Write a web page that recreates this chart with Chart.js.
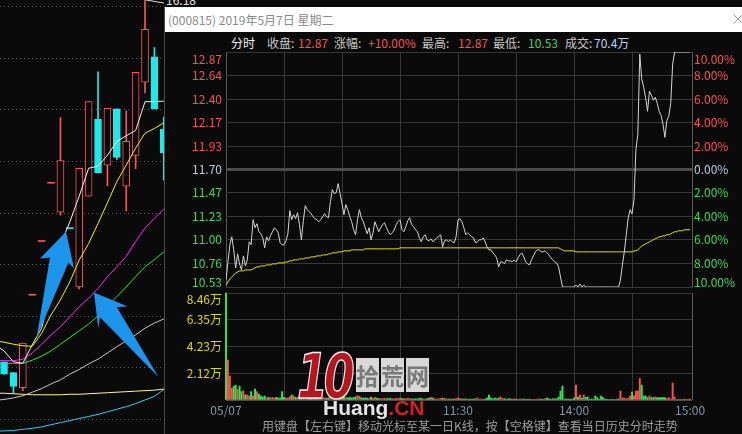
<!DOCTYPE html>
<html lang="zh-CN">
<head>
<meta charset="utf-8">
<title>000815 分时走势</title>
<script src="https://cdn.jsdelivr.net/npm/chart.js@4.4.1/dist/chart.umd.min.js"></script>
<style>
  html, body { margin: 0; padding: 0; background: #0a0a0a; }
  body { position: relative; width: 742px; height: 434px; overflow: hidden;
         font-family: "Noto Sans CJK SC", "Noto Sans", sans-serif; font-size: 12px; }
  canvas, .abs { position: absolute; }
  #kline { left: 0; top: 0; }
  #hiLabel { left: 166px; top: -6px; line-height: 12px; color: #e6e6e6; }
  #panel { left: 164px; top: 7px; width: 577px; height: 427px; background: #0a0a0a; border-left: 1px solid #4b4b4b; }
  #titlebar { left: 165px; top: 7px; width: 577px; height: 25px; background: #fff; }
  #title { left: 168px; top: 7px; line-height: 25px; color: #8a8a8a; white-space: nowrap; }
  #close { left: 733px; top: 14px; }
  .info { top: 35px; line-height: 16px; color: #c8c8c8; white-space: nowrap; }
  .red { color: #ff4f4f; } .green { color: #3bd95a; } .white { color: #ececec; } .blue { color: #bcd2f2; }
  #price { left: 165px; top: 34px; }
  #vol { left: 165px; top: 290px; }
  #hint { left: 262px; top: 417px; line-height: 17px; color: #9c9c9c; white-space: nowrap; }
  #wm10 { left: 297px; top: 346px; font: italic bold 62px/62px "DejaVu Sans", sans-serif; color: #b5161e;
          -webkit-text-stroke: 1.5px #eeeeee; letter-spacing: -6px; transform: scaleX(0.72); transform-origin: left top; }
  #wmCn { left: 356px; top: 362px; font: bold 23px/27px "Noto Sans CJK SC", sans-serif; color: #7a7a7a; white-space: nowrap; }
  #wmCn span { background: #d8d8d8; margin-right: 2px; }
  #wmEn { left: 323px; top: 396px; font: bold 21px/24px "Liberation Sans", sans-serif; color: #e4e4e4; white-space: nowrap; }
  #wmEn b { color: #d42020; }
</style>
</head>
<body>
<canvas id="kline" width="164" height="434"></canvas>
<div id="hiLabel" class="abs">16.18</div>

<div id="panel" class="abs"></div>
<div id="titlebar" class="abs"></div>
<div id="title" class="abs">(000815) 2019年5月7日 星期二</div>
<svg id="close" class="abs" width="10" height="10"><path d="M0.5 0.5L9.5 9.5M9.5 0.5L0.5 9.5" stroke="#9a9a9a" stroke-width="1"/></svg>

<div class="abs info white" style="left:231px">分时</div>
<div class="abs info" style="left:267px">收盘:</div>
<div class="abs info red" style="left:298px">12.87</div>
<div class="abs info" style="left:334px">涨幅:</div>
<div class="abs info red" style="left:368px">+10.00%</div>
<div class="abs info" style="left:422px">最高:</div>
<div class="abs info red" style="left:458px">12.87</div>
<div class="abs info" style="left:493px">最低:</div>
<div class="abs info green" style="left:528px">10.53</div>
<div class="abs info" style="left:565px">成交:</div>
<div class="abs info blue" style="left:594px">70.4万</div>

<canvas id="price" width="577" height="256"></canvas>
<canvas id="vol" width="577" height="144"></canvas>

<div id="hint" class="abs">用键盘【左右键】移动光标至某一日K线，按【空格键】查看当日历史分时走势</div>

<div id="wm10" class="abs">10</div>
<div id="wmCn" class="abs"><span>拾</span><span>荒</span><span>网</span></div>
<div id="wmEn" class="abs">Huang<b>.CN</b></div>

<script>
// ================= 日K线 (左侧) =================
const kOpen  = [9.12, 8.91, 8.62, 10.41, 11.45, 12.58, 12.02, 11.70, 10.57, 12.33, 13.82, 12.93, 14.02, 12.52, 13.12, 14.54, 15.03, 13.63];
const kClose = [8.88, 8.64, 9.48, 10.41, 11.45, 12.58, 13.02, 11.70, 12.87, 14.16, 12.78, 14.03, 13.08, 13.39, 14.73, 15.56, 14.02, 13.17];
const kHigh  = [9.12, 8.91, 9.48, 10.41, 11.45, 12.58, 13.85, 11.70, 12.87, 14.16, 14.74, 14.03, 14.02, 13.98, 14.73, 16.18, 15.21, 13.86];
const kLow   = [8.88, 8.51, 8.56, 10.41, 11.45, 12.58, 11.96, 11.70, 10.53, 12.33, 12.78, 12.53, 13.04, 12.04, 12.86, 14.33, 14.02, 12.64];
const kGrid  = [8, 9, 10, 11, 12, 13, 14, 15, 16];

// 均线: 第一个值是上一交易日 (在画面外)
const ma5   = [9.45, 9.33, 9.12, 9.09, 9.45, 9.77, 10.51, 11.39, 11.83, 12.33, 12.87, 12.91, 13.12, 13.39, 13.50, 13.60, 14.16, 14.16, 14.17];
const ma10  = [9.53, 9.50, 9.46, 9.43, 9.42, 9.67, 10.03, 10.32, 10.67, 11.09, 11.41, 11.80, 12.20, 12.61, 12.93, 13.26, 13.55, 13.64, 13.75];
const ma20  = [9.15, 9.14, 9.14, 9.17, 9.29, 9.46, 9.64, 9.80, 9.99, 10.19, 10.35, 10.54, 10.77, 10.96, 11.16, 11.45, 11.71, 11.90, 12.08];
const ma30  = [9.08, 9.09, 9.09, 9.09, 9.15, 9.23, 9.33, 9.46, 9.59, 9.72, 9.85, 10.01, 10.20, 10.38, 10.57, 10.77, 10.96, 11.10, 11.25];
const ma60  = [8.37, 8.39, 8.42, 8.46, 8.53, 8.60, 8.69, 8.77, 8.88, 8.97, 9.08, 9.17, 9.29, 9.41, 9.53, 9.64, 9.77, 9.87, 9.95];
const ma120 = [8.51, 8.51, 8.50, 8.49, 8.48, 8.48, 8.48, 8.48, 8.49, 8.49, 8.50, 8.51, 8.52, 8.53, 8.54, 8.55, 8.56, 8.57, 8.59];
const ma250 = [7.77, 7.78, 7.79, 7.81, 7.83, 7.86, 7.90, 7.94, 7.98, 8.02, 8.06, 8.10, 8.15, 8.20, 8.25, 8.31, 8.38, 8.45, 8.58];

// 蓝色箭头 (K线序号, 价格)
const arrows = [
    [[6.59, 11.64], [3.83, 11.12], [4.89, 11.14], [3.47, 9.59], [6.84, 11.04], [7.44, 10.93]],
    [[9.57, 10.46], [13.16, 10.19], [11.99, 10.18], [16.41, 8.83], [10.21, 9.98], [10.03, 9.77]]
];

// ================= 分时 2019-05-07 =================
const prevClose = 11.70;
const prices = [
    10.60, 10.78, 10.95, 11.03, 10.90, 10.72, 10.86, 10.76, 10.70, 10.84,
    10.74, 10.80, 10.98, 10.95, 11.20, 11.12, 11.16, 11.08, 11.06, 11.02,
    10.92, 11.03, 10.99, 11.04, 11.08, 11.12, 11.10, 11.07, 10.97, 10.95,
    10.95, 10.99, 11.06, 11.29, 11.20, 11.25, 11.21, 11.27, 11.15, 11.00,
    11.19, 11.34, 11.30, 11.28, 11.26, 11.23, 11.21, 11.20, 11.18, 11.20,
    11.23, 11.26, 11.23, 11.22, 11.38, 11.50, 11.46, 11.47, 11.56, 11.46,
    11.36, 11.25, 11.35, 11.30, 11.23, 11.18, 11.10, 11.05, 11.20, 11.30,
    11.22, 11.18, 11.12, 11.06, 11.12, 11.00, 11.07, 11.18, 11.13, 11.08,
    11.12, 11.15, 11.17, 11.12, 11.08, 11.05, 11.07, 11.10, 11.15, 11.18,
    11.20, 11.10, 11.08, 11.13, 11.19, 11.22, 11.15, 11.13, 11.10, 11.08,
    11.02, 10.98, 11.03, 11.05, 11.00, 10.99, 11.01, 10.98, 11.00, 11.02,
    11.03, 11.05, 10.93, 10.99, 11.00, 10.98, 11.00, 10.98, 10.97, 11.03,
    11.20, 11.21, 11.18, 11.12, 11.05, 11.07, 11.05, 11.03, 11.02, 10.97,
    10.98, 11.00, 11.00, 11.02, 10.98, 10.93, 10.90, 10.90, 10.87, 10.85,
    10.82, 10.73, 10.78, 10.78, 10.76, 10.80, 10.79, 10.79, 10.78, 10.80,
    10.78, 10.82, 10.85, 10.87, 10.83, 10.78, 10.76, 10.75, 10.80, 10.84,
    10.88, 10.90, 10.90, 10.88, 10.88, 10.89, 10.87, 10.85, 10.82, 10.80,
    10.78, 10.77, 10.73, 10.63, 10.53, 10.53, 10.53, 10.53, 10.53, 10.53,
    10.53, 10.55, 10.53, 10.56, 10.53, 10.55, 10.53, 10.53, 10.53, 10.53,
    10.53, 10.53, 10.53, 10.53, 10.53, 10.53, 10.53, 10.53, 10.53, 10.53,
    10.53, 10.53, 10.53, 10.53, 10.60, 10.75, 10.88, 11.05, 11.22, 11.30,
    11.26, 11.40, 11.90, 12.05, 12.85, 12.60, 12.52, 12.42, 12.28, 12.48,
    12.44, 12.39, 12.42, 12.36, 12.28, 12.24, 12.15, 12.02, 12.19, 12.23,
    12.36, 12.75, 12.87, 12.87, 12.87, 12.87, 12.87, 12.87, 12.87, 12.87,
    12.87
];
const avgPrices = [
    10.55, 10.58, 10.61, 10.63, 10.65, 10.67, 10.68, 10.69, 10.69, 10.69,
    10.70, 10.70, 10.70, 10.70, 10.71, 10.72, 10.73, 10.73, 10.74, 10.74,
    10.74, 10.75, 10.75, 10.75, 10.76, 10.76, 10.76, 10.77, 10.77, 10.77,
    10.77, 10.78, 10.78, 10.79, 10.79, 10.80, 10.80, 10.80, 10.81, 10.81,
    10.81, 10.82, 10.82, 10.82, 10.83, 10.83, 10.83, 10.84, 10.84, 10.84,
    10.85, 10.85, 10.85, 10.86, 10.86, 10.87, 10.87, 10.87, 10.88, 10.88,
    10.88, 10.89, 10.89, 10.89, 10.89, 10.90, 10.90, 10.90, 10.90, 10.90,
    10.90, 10.90, 10.91, 10.91, 10.91, 10.91, 10.91, 10.91, 10.91, 10.91,
    10.91, 10.91, 10.91, 10.91, 10.91, 10.91, 10.91, 10.91, 10.91, 10.91,
    10.92, 10.92, 10.92, 10.92, 10.92, 10.92, 10.92, 10.92, 10.92, 10.92,
    10.92, 10.92, 10.92, 10.92, 10.92, 10.92, 10.92, 10.92, 10.92, 10.92,
    10.92, 10.92, 10.92, 10.92, 10.92, 10.92, 10.92, 10.92, 10.92, 10.92,
    10.92, 10.92, 10.92, 10.92, 10.92, 10.92, 10.92, 10.92, 10.92, 10.92,
    10.92, 10.92, 10.92, 10.92, 10.92, 10.92, 10.92, 10.92, 10.92, 10.92,
    10.92, 10.92, 10.92, 10.92, 10.92, 10.92, 10.92, 10.92, 10.92, 10.92,
    10.92, 10.92, 10.92, 10.92, 10.92, 10.92, 10.92, 10.92, 10.92, 10.92,
    10.92, 10.92, 10.92, 10.92, 10.92, 10.92, 10.92, 10.92, 10.92, 10.92,
    10.92, 10.92, 10.92, 10.91, 10.90, 10.89, 10.89, 10.89, 10.89, 10.89,
    10.89, 10.88, 10.88, 10.88, 10.88, 10.88, 10.88, 10.88, 10.88, 10.88,
    10.88, 10.88, 10.88, 10.88, 10.88, 10.88, 10.88, 10.88, 10.88, 10.88,
    10.88, 10.88, 10.88, 10.88, 10.88, 10.88, 10.88, 10.88, 10.88, 10.88,
    10.88, 10.89, 10.89, 10.90, 10.92, 10.94, 10.95, 10.96, 10.97, 10.98,
    10.99, 11.00, 11.01, 11.02, 11.03, 11.03, 11.04, 11.04, 11.05, 11.05,
    11.06, 11.07, 11.08, 11.08, 11.09, 11.09, 11.09, 11.10, 11.10, 11.10,
    11.10
];
const volumes = [
    84600, 31600, 19000, 9200, 11000, 11800, 8400, 11000, 6600, 7200,
    4000, 4000, 3200, 6600, 3200, 8700, 6600, 4700, 3200, 2400,
    3200, 1600, 2100, 1600, 2100, 1600, 2100, 1600, 1600, 6600,
    2100, 1600, 1600, 2600, 4000, 3200, 2100, 2100, 3200, 4700,
    2400, 3600, 1800, 2200, 1500, 1800, 1300, 1600, 1200, 1500,
    2000, 1600, 1400, 1800, 3800, 4500, 2600, 2200, 3900, 2400,
    2800, 3100, 1900, 1600, 2200, 1700, 2000, 2600, 3400, 2900,
    1800, 1500, 1700, 1400, 1200, 2400, 1300, 2100, 1500, 1200,
    1000, 1100, 1300, 900, 1200, 1400, 1000, 900, 1300, 1100,
    1600, 1200, 900, 1000, 1300, 1100, 900, 800, 1000, 900,
    1200, 1400, 900, 800, 1100, 1500, 2100, 1600, 900, 800,
    1000, 1200, 1600, 1300, 900, 800, 900, 700, 800, 1000,
    1600, 1200, 800, 700, 900, 800, 700, 600, 800, 900,
    1600, 700, 800, 600, 700, 1600, 4000, 1600, 900, 1600,
    1000, 1600, 2400, 1200, 1200, 700, 1000, 1000, 600, 1000,
    600, 500, 800, 800, 800, 500, 600, 700, 500, 600,
    500, 800, 800, 800, 500, 1000, 1600, 1000, 600, 1000,
    1000, 1000, 2400, 7100, 11000, 800, 800, 800, 600, 500,
    1600, 11800, 2400, 4000, 1600, 4000, 2100, 2400, 600, 800,
    500, 3200, 1900, 600, 3200, 1900, 800, 500, 400, 400,
    500, 400, 500, 800, 7100, 1600, 1600, 900, 1300, 3200,
    6300, 3200, 7100, 7100, 17000, 11800, 3200, 3200, 1900, 3200,
    1900, 1900, 2400, 1900, 1900, 1900, 1900, 1900, 1100, 1900,
    800, 13400, 2400, 400, 300, 300, 400, 800, 300, 300,
    800
];

const priceTicks = [12.87, 12.64, 12.40, 12.17, 11.93, 11.70, 11.47, 11.23, 11.00, 10.76, 10.53];
const pctLabels  = ['10.00%', '8.00%', '6.00%', '4.00%', '2.00%', '0.00%', '2.00%', '4.00%', '6.00%', '8.00%', '10.00%'];
const volTicks   = [84600, 63450, 42300, 21150];
const volLabels  = ['8.46万', '6.35万', '4.23万', '2.12万'];
const volGrid    = [0, 21150, 42300, 63450, 84600];
const timeGrid   = [0, 30, 60, 90, 120, 150, 180, 210, 241];
const timeTicks  = [0, 120, 180, 240];
const timeLabels = ['05/07', '11:30', '14:00', '15:00'];

// ================= 样式 =================
const FONT = '"Noto Sans CJK SC", "Noto Sans", sans-serif';
const BG = '#0a0a0a';
const RED = '#ff4f4f', GREEN = '#3bd95a', FLAT = '#b9c8de';
const K_UP = '#ff5454', K_DOWN = '#1fe8e8';
const GRID = '#373737', FRAME = '#5a5a5a';

function baseOptions(pad) {
    return {
        responsive: false, animation: false, devicePixelRatio: 1, events: [],
        layout: { padding: pad },
        plugins: { legend: { display: false }, tooltip: { enabled: false } }
    };
}

// ================= 日K线 =================
function isUp(i) {
    if (kClose[i] !== kOpen[i]) return kClose[i] > kOpen[i];
    return i > 0 && kClose[i] >= kClose[i - 1];
}
const maLine = (vals, color) => ({
    type: 'line', data: vals.map((v, k) => ({ x: k - 1, y: v })),
    borderColor: color, borderWidth: 1, pointRadius: 0, order: 0
});

const kAnnot = {
    id: 'kAnnot',
    afterDatasetsDraw(chart) {
        const { ctx, scales: { x, y } } = chart;
        ctx.save();
        // 最高价引线
        const hi = kHigh.indexOf(Math.max(...kHigh));
        ctx.strokeStyle = '#dddddd'; ctx.lineWidth = 1;
        ctx.beginPath();
        ctx.moveTo(x.getPixelForValue(hi) + 1, Math.max(y.getPixelForValue(kHigh[hi]), 0));
        ctx.lineTo(chart.width, 3);
        ctx.stroke();
        // 箭头
        ctx.fillStyle = '#1c95ec';
        arrows.forEach(pts => {
            ctx.beginPath();
            pts.forEach(([ix, p], j) => {
                const px = x.getPixelForValue(ix), py = y.getPixelForValue(p);
                if (j) ctx.lineTo(px, py); else ctx.moveTo(px, py);
            });
            ctx.closePath(); ctx.fill();
        });
        ctx.restore();
    }
};

new Chart(document.getElementById('kline'), {
    type: 'bar',
    data: {
        datasets: [
            maLine(ma5, '#f2f2f2'), maLine(ma10, '#f5f500'), maLine(ma20, '#ff2bff'),
            maLine(ma30, '#22ee22'), maLine(ma60, '#c8c8c8'), maLine(ma120, '#fff59a'),
            maLine(ma250, '#2fd0ee'),
            {
                data: kOpen.map((o, i) => ({ x: i, y: [o, kClose[i]] })),
                grouped: false, barThickness: 7, minBarLength: 1, borderSkipped: false, order: 1,
                backgroundColor: c => {
                    const i = c.dataIndex || 0;
                    if (kOpen[i] === kClose[i]) return isUp(i) ? K_UP : K_DOWN;
                    return isUp(i) ? BG : K_DOWN;
                },
                borderColor: c => isUp(c.dataIndex || 0) ? K_UP : K_DOWN,
                borderWidth: c => kOpen[c.dataIndex || 0] === kClose[c.dataIndex || 0] ? 0 : 1
            },
            {
                data: kLow.map((l, i) => ({ x: i, y: [l, kHigh[i]] })),
                grouped: false, barThickness: 1, order: 2,
                backgroundColor: c => isUp(c.dataIndex || 0) ? K_UP : K_DOWN
            }
        ]
    },
    options: {
        ...baseOptions(0),
        scales: {
            x: { type: 'linear', min: -0.43, max: 17.02, offset: false, display: false },
            y: {
                type: 'linear', min: 7.72, max: 16.13,
                afterBuildTicks: s => { s.ticks = kGrid.map(v => ({ value: v })); },
                afterFit: s => { s.width = 0; },
                ticks: { display: false },
                grid: { color: '#5c5c5c', drawTicks: false },
                border: { display: false, dash: [1, 3] }
            }
        }
    },
    plugins: [kAnnot]
});

// ================= 分时价格 =================
const priceColor = v => v > prevClose ? RED : (v < prevClose ? GREEN : FLAT);
const xGridColor = c => (c.tick.value === 0 || c.tick.value === 241) ? FRAME : GRID;

const priceLabels = {
    id: 'priceLabels',
    afterDraw(chart) {
        const { ctx, chartArea: a, scales: { y } } = chart;
        ctx.save();
        ctx.font = '12px ' + FONT;
        ctx.textBaseline = 'middle';
        priceTicks.forEach((v, i) => {
            const py = Math.min(Math.max(y.getPixelForValue(v), a.top + 7), a.bottom - 5);
            ctx.fillStyle = priceColor(v);
            ctx.textAlign = 'right';
            ctx.fillText(v.toFixed(2), a.left - 4, py);
            ctx.textAlign = 'left';
            ctx.fillText(pctLabels[i], a.right + 2, py);
        });
        ctx.restore();
    }
};

new Chart(document.getElementById('price'), {
    type: 'line',
    data: {
        datasets: [
            { data: prices.map((p, i) => ({ x: i, y: p })), borderColor: '#d4d4d4', borderWidth: 1, pointRadius: 0 },
            { data: avgPrices.map((p, i) => ({ x: i, y: p })), borderColor: '#e8e800', borderWidth: 1, pointRadius: 0 }
        ]
    },
    options: {
        ...baseOptions({ left: 61, right: 50, top: 18, bottom: 3 }),
        scales: {
            x: {
                type: 'linear', min: 0, max: 241, offset: false,
                afterBuildTicks: s => { s.ticks = timeGrid.map(v => ({ value: v })); },
                afterFit: s => { s.height = 0; },
                ticks: { display: false },
                grid: { color: xGridColor, drawTicks: false },
                border: { display: false }
            },
            y: {
                type: 'linear', min: 10.53, max: 12.87,
                afterBuildTicks: s => { s.ticks = priceTicks.map(v => ({ value: v })); },
                afterFit: s => { s.width = 0; },
                ticks: { display: false },
                grid: {
                    color: c => c.tick.value === prevClose ? '#4c4c4c' : GRID,
                    lineWidth: c => c.tick.value === prevClose ? 3 : 1,
                    drawTicks: false
                },
                border: { display: false }
            }
        }
    },
    plugins: [priceLabels]
});

// ================= 成交量 =================
const volColors = [];
let lastColor = GREEN;
prices.forEach((p, i) => {
    const ref = i === 0 ? prevClose : prices[i - 1];
    if (p > ref) lastColor = '#ff5050';
    else if (p < ref) lastColor = '#33e650';
    volColors.push(lastColor);
});

const volLabelsPlugin = {
    id: 'volLabels',
    afterDraw(chart) {
        const { ctx, chartArea: a, scales: { x, y } } = chart;
        ctx.save();
        ctx.font = '12px ' + FONT;
        ctx.textBaseline = 'middle';
        ctx.fillStyle = '#dcdc00';
        ctx.textAlign = 'right';
        volTicks.forEach((v, i) => {
            ctx.fillText(volLabels[i], a.left - 4, Math.max(y.getPixelForValue(v), a.top + 6));
        });
        ctx.fillStyle = '#8592a8';
        ctx.textAlign = 'center';
        timeTicks.forEach((t, i) => {
            ctx.fillText(timeLabels[i], x.getPixelForValue(t), a.bottom + 10);
        });
        ctx.restore();
    }
};

new Chart(document.getElementById('vol'), {
    type: 'bar',
    data: {
        datasets: [{
            data: volumes.map((v, i) => ({ x: i, y: v })),
            backgroundColor: volColors, barThickness: 1.3, clip: false
        }]
    },
    options: {
        ...baseOptions({ left: 61, right: 50, top: 3, bottom: 34 }),
        scales: {
            x: {
                type: 'linear', min: 0, max: 241, offset: false,
                afterBuildTicks: s => { s.ticks = timeGrid.map(v => ({ value: v })); },
                afterFit: s => { s.height = 0; },
                ticks: { display: false },
                grid: { color: xGridColor, drawTicks: false, offset: false },
                border: { display: false }
            },
            y: {
                type: 'linear', min: 0, max: 84600,
                afterBuildTicks: s => { s.ticks = volGrid.map(v => ({ value: v })); },
                afterFit: s => { s.width = 0; },
                ticks: { display: false },
                grid: { color: c => c.tick.value === 0 ? '#4a4a4a' : GRID, drawTicks: false },
                border: { display: false }
            }
        }
    },
    plugins: [volLabelsPlugin]
});
</script>
</body>
</html>
